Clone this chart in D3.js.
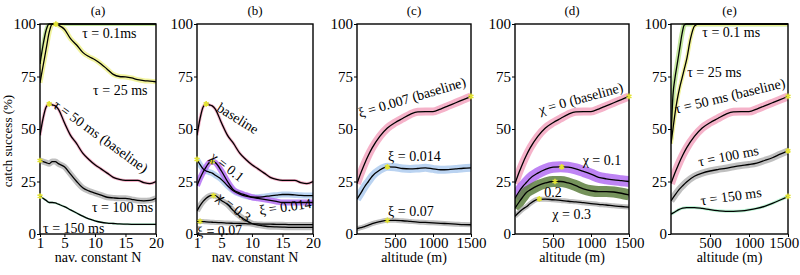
<!DOCTYPE html>
<html>
<head>
<meta charset="utf-8">
<script src="https://cdn.jsdelivr.net/npm/d3@7"></script>
<style>
  body { margin: 0; background: #fff; }
  svg text { font-family: "Liberation Serif", "Times New Roman", serif; fill: #000; }
  .tick text { font-size: 15px; }
  .tick line { stroke: #000; }
  .lbl { font-size: 14px; }
</style>
</head>
<body>
<svg id="chart" width="800" height="275" font-family="Liberation Serif, serif"></svg>
<script>
// ---- data ----
var nGrid   = [1, 1.5, 2, 2.5, 3, 3.5, 4, 5, 6, 7, 8, 9, 10, 11, 12, 13, 14, 15, 16, 17, 18, 19, 20];
var altGrid = [0, 50, 100, 150, 200, 300, 400, 500, 600, 700, 800, 900, 1000, 1100, 1200, 1300, 1400, 1500];
var steepAlt = [0, 25, 50, 80, 110, 140, 170, 200, 250, 300, 350, 400, 600, 800, 1000, 1200, 1500];
var yTicks = [0, 25, 50, 75, 100];
var nTicks = [1, 5, 10, 15, 20];
var altTicks = [500, 1000, 1500];

// (a) & (b): catch success vs N
var tau01N   = [81, 90, 97, 100, 100, 100, 100, 100, 100, 100, 100, 100, 100, 100, 100, 100, 100, 100, 100, 100, 100, 100, 100];
var tau25N   = [72, 80, 88, 96, 100, 100, 99.5, 97.5, 93, 90, 86.5, 84.5, 83, 81, 78.5, 76, 75, 74.8, 74.3, 73.5, 73, 72.8, 72.5];
var baseN    = [47, 55, 60.5, 62, 61.5, 61, 59.5, 53, 47, 43, 38.5, 35.5, 33, 31, 29, 27, 26, 25.5, 25.5, 25.5, 24.5, 24, 25];
var tau100N  = [35, 34.5, 34, 33.5, 34.5, 34.5, 33.5, 32, 28.5, 25, 22, 20.5, 19.5, 18.5, 17.5, 17.2, 17, 17, 16.5, 16, 15.8, 16, 17];
var tau150N  = [18, 17, 16, 15, 15, 14.8, 14.2, 13, 11.5, 10, 8.5, 7.2, 6.3, 5.6, 5.2, 5, 4.8, 4.7, 4.6, 4.6, 4.6, 4.6, 4.6];
var chi01N   = [23, 26.5, 29.5, 32, 34, 34.5, 34, 30, 25, 21, 19.5, 18.5, 17.5, 17, 16.5, 16, 15.5, 15, 15, 15, 15, 15, 15];
var xi014N   = [35.5, 33, 31, 30, 29.5, 29, 28, 26, 23, 20.5, 19, 18, 17.5, 17.5, 17.8, 18.2, 18.5, 18.8, 18.8, 18.6, 18.4, 18.3, 18.3];
var chi03N   = [11, 13.5, 15.5, 17, 18, 18.5, 18.3, 16, 14, 11, 8.5, 6.5, 5, 4.2, 3.8, 3.5, 3.4, 3.3, 3.2, 3.2, 3.2, 3.2, 3.2];
var xi07N    = [6, 6, 5.9, 5.8, 5.7, 5.6, 5.5, 5.4, 5.2, 5.1, 5, 4.9, 4.8, 4.8, 4.7, 4.7, 4.6, 4.6, 4.5, 4.5, 4.5, 4.5, 4.5];

// (c), (d), (e): catch success vs altitude
var baseAlt  = [24, 29, 33.5, 37.5, 41, 46.5, 50.5, 53, 55, 57, 58.2, 58.3, 58.3, 59.5, 61, 62.5, 64, 65.5];
var xi014Alt = [16.6, 19.5, 22.5, 25, 27.5, 30.5, 32, 31.8, 31.2, 31, 31.2, 31.5, 31, 30.6, 30.7, 31, 31.3, 31.5];
var xi07Alt  = [2.5, 3, 3.5, 4.2, 4.9, 5.9, 6.5, 6.5, 6.3, 6, 5.7, 5.5, 5.3, 5.1, 4.9, 4.7, 4.5, 4.4];
var chi01Alt = [17, 20, 22.5, 24.5, 26.5, 29, 30.8, 31.8, 32, 31.8, 31, 29.8, 28.5, 27, 26.3, 25.8, 25.4, 25];
var chi02Alt = [12.3, 15, 17.5, 19.8, 21, 23, 24.3, 25, 25, 24.3, 23, 21.5, 20.6, 20.2, 20.2, 20, 19.4, 18.6];
var chi03Alt = [8.4, 10.2, 11.8, 13, 14.5, 16.5, 16.6, 16.3, 16, 15.6, 15.3, 14.9, 14.5, 14.1, 13.8, 13.4, 13.1, 12.8];
var tau01Alt = [45, 66, 74, 81, 88, 95, 99.5, 100, 100, 100, 100, 100, 100, 100, 100, 100, 100];
var tau25Alt = [43, 50, 57, 64, 69.5, 74, 78.5, 83, 93, 99, 100, 100, 100, 100, 100, 100, 100];
var tau100Alt = [15.8, 18.5, 21, 23, 24.8, 27.5, 29, 30, 30.7, 31.3, 32, 32.6, 33.1, 33.8, 35, 36.3, 38, 39.6];
var tau150Alt = [9.5, 10.5, 11.6, 12.3, 12.6, 12.6, 12.2, 11.6, 11.1, 10.8, 10.8, 11, 11.5, 12.2, 13.2, 14.6, 16.2, 17.9];

// optimum markers (x, value)
var starsA = [[3.6, 100], [2.5, 62], [1, 35], [1, 18]];
var starsB = [[2.5, 62], [3.5, 34.5], [1, 35.5], [3.7, 18.3], [1.5, 6]];
var starsC = [[1500, 65.5], [400, 32], [400, 6.5]];
var starsD = [[1500, 65.5], [614, 32], [526, 25], [320, 16.7]];
var starsE = [[1500, 65.5], [1500, 39.6], [1500, 17.9]];

// ---- styling ----
var pink = "#f3a5bf", blue = "#aecbef", purple = "#b36ef2", olive = "#5d7f3e",
    grey = "#b4b4b4", lime = "#b8e38c", yellow = "#eef18c", mint = "#aef2cc";

var plotTop = 24, plotBottom = 234;

var panels = [
  { title: "(a)", left: 40, right: 156, domain: [1, 20], ticks: nTicks, xTitle: "nav. constant N",
    series: [
      { xs: nGrid, ys: tau01N, color: lime, bw: 4 },
      { xs: nGrid, ys: tau25N, color: yellow, bw: 5 },
      { xs: nGrid, ys: baseN, color: pink, bw: 3 },
      { xs: nGrid, ys: tau100N, color: grey, bw: 6 },
      { xs: nGrid, ys: tau150N, color: mint, bw: 2 }
    ],
    stars: starsA,
    labels: [
      { t: "τ = 0.1ms", x: 7.9, y: 93.3, r: 0 },
      { t: "τ = 25 ms", x: 9.7, y: 66, r: 0 },
      { t: "τ = 50 ms (baseline)", x: 3.0, y: 60.5, r: 36 },
      { t: "τ = 100 ms", x: 9.5, y: 10.5, r: 0 },
      { t: "τ = 150 ms", x: 1.5, y: 0.6, r: 0 }
    ] },
  { title: "(b)", left: 197, right: 313, domain: [1, 20], ticks: nTicks, xTitle: "nav. constant N",
    series: [
      { xs: nGrid, ys: baseN, color: pink, bw: 3 },
      { xs: nGrid, ys: xi014N, color: blue, bw: 6 },
      { xs: nGrid, ys: chi01N, color: purple, bw: 6 },
      { xs: nGrid, ys: chi03N, color: grey, bw: 6 },
      { xs: nGrid, ys: xi07N, color: grey, bw: 5 }
    ],
    stars: starsB,
    labels: [
      { t: "baseline", x: 4.1, y: 58.9, r: 32 },
      { t: "χ = 0.1", x: 3.0, y: 35.9, r: 38 },
      { t: "χ = 0.3", x: 4.1, y: 16.7, r: 38 },
      { t: "ξ = 0.014", x: 11.3, y: 9, r: -8 },
      { t: "ξ = 0.07", x: 1.0, y: -1.2, r: -3 }
    ] },
  { title: "(c)", left: 357, right: 471, domain: [0, 1500], ticks: altTicks, xTitle: "altitude (m)",
    series: [
      { xs: altGrid, ys: baseAlt, color: pink, bw: 8 },
      { xs: altGrid, ys: xi014Alt, color: blue, bw: 8 },
      { xs: altGrid, ys: xi07Alt, color: grey, bw: 5 }
    ],
    stars: starsC,
    labels: [
      { t: "ξ = 0.007 (baseline)", x: 40, y: 55.4, r: -16.5 },
      { t: "ξ = 0.014", x: 408, y: 35, r: 0 },
      { t: "ξ = 0.07", x: 408, y: 8.5, r: 0 }
    ] },
  { title: "(d)", left: 515, right: 629, domain: [0, 1500], ticks: altTicks, xTitle: "altitude (m)",
    series: [
      { xs: altGrid, ys: baseAlt, color: pink, bw: 8 },
      { xs: altGrid, ys: chi01Alt, color: purple, bw: 11 },
      { xs: altGrid, ys: chi02Alt, color: olive, bw: 11 },
      { xs: altGrid, ys: chi03Alt, color: grey, bw: 5 }
    ],
    stars: starsD,
    labels: [
      { t: "χ = 0 (baseline)", x: 332, y: 56.9, r: -15.5 },
      { t: "χ = 0.1", x: 890, y: 32.7, r: 0 },
      { t: "0.2", x: 385, y: 17.5, r: 0 },
      { t: "χ = 0.3", x: 491, y: 7.1, r: 0 }
    ] },
  { title: "(e)", left: 671, right: 788, domain: [0, 1500], ticks: altTicks, xTitle: "altitude (m)",
    series: [
      { xs: steepAlt, ys: tau01Alt, color: lime, bw: 5 },
      { xs: steepAlt, ys: tau25Alt, color: yellow, bw: 4 },
      { xs: altGrid, ys: baseAlt, color: pink, bw: 8 },
      { xs: altGrid, ys: tau100Alt, color: grey, bw: 7 },
      { xs: altGrid, ys: tau150Alt, color: mint, bw: 3 }
    ],
    stars: starsE,
    labels: [
      { t: "τ = 0.1 ms", x: 401, y: 93.8, r: 0 },
      { t: "τ = 25 ms", x: 207, y: 74.9, r: 0 },
      { t: "τ = 50 ms (baseline)", x: 65, y: 57.3, r: -13.6 },
      { t: "τ = 100 ms", x: 362, y: 32.2, r: -11 },
      { t: "τ = 150 ms", x: 388, y: 13.7, r: -8 }
    ] }
];

var svg = d3.select("#chart");

var yScale = d3.scaleLinear().domain([0, 100]).range([plotBottom, plotTop]);

// y axis title (only on the first panel)
svg.append("text")
  .attr("transform", "translate(12,141) rotate(-90)")
  .attr("text-anchor", "middle")
  .style("font-size", "13px")
  .text("catch success (%)");

panels.forEach(function(p, i) {
  var xScale = d3.scaleLinear().domain(p.domain).range([p.left, p.right]);
  var g = svg.append("g");

  // clip to the plot box
  var clipId = "clip" + i;
  svg.append("clipPath").attr("id", clipId)
    .append("rect")
    .attr("x", p.left).attr("y", plotTop - 1)
    .attr("width", p.right - p.left).attr("height", plotBottom - plotTop + 1);

  var line = d3.line()
    .x(function(d) { return xScale(d[0]); })
    .y(function(d) { return yScale(d[1]); })
    .curve(d3.curveMonotoneX);

  var plot = g.append("g").attr("clip-path", "url(#" + clipId + ")");

  // shaded bands
  p.series.forEach(function(s) {
    var pts = s.xs.map(function(x, k) { return [x, s.ys[k]]; });
    plot.append("path")
      .datum(pts)
      .attr("d", line)
      .attr("fill", "none")
      .attr("stroke", s.color)
      .attr("stroke-width", s.bw)
      .attr("stroke-opacity", 0.85)
      .attr("stroke-linejoin", "round");
  });

  // mean lines
  p.series.forEach(function(s) {
    var pts = s.xs.map(function(x, k) { return [x, s.ys[k]]; });
    plot.append("path")
      .datum(pts)
      .attr("d", line)
      .attr("fill", "none")
      .attr("stroke", "#000")
      .attr("stroke-width", 1.3);
  });

  // frame
  g.append("rect")
    .attr("x", p.left).attr("y", plotTop)
    .attr("width", p.right - p.left).attr("height", plotBottom - plotTop)
    .attr("fill", "none").attr("stroke", "#000").attr("stroke-width", 1.4);

  // star markers
  g.selectAll(".star")
    .data(p.stars)
    .enter().append("path")
    .attr("transform", function(d) { return "translate(" + xScale(d[0]) + "," + yScale(d[1]) + ")"; })
    .attr("d", d3.symbol().type(d3.symbolAsterisk).size(22))
    .attr("fill", "none")
    .attr("stroke", "#e3e334")
    .attr("stroke-width", 1.6);

  // axes
  var ya = g.append("g")
    .attr("transform", "translate(" + p.left + ",0)")
    .call(d3.axisLeft(yScale).tickValues(yTicks).tickSize(3).tickSizeOuter(0).tickPadding(1))
    .attr("font-family", null);
  ya.select(".domain").remove();

  var xa = g.append("g")
    .attr("transform", "translate(0," + plotBottom + ")")
    .call(d3.axisBottom(xScale).tickValues(p.ticks).tickFormat(d3.format("d"))
      .tickSize(3).tickSizeOuter(0).tickPadding(0))
    .attr("font-family", null);
  xa.select(".domain").remove();
  // keep the last label of the last panel inside the window
  if (i === panels.length - 1) {
    xa.selectAll(".tick text").filter(function(d) { return d === 1500; })
      .attr("text-anchor", "end").attr("dx", "0.72em");
  }

  // panel title and x title
  var cx = (p.left + p.right) / 2;
  svg.append("text")
    .attr("x", cx).attr("y", 15)
    .attr("text-anchor", "middle")
    .style("font-size", "13px")
    .text(p.title);

  svg.append("text")
    .attr("x", cx).attr("y", 262)
    .attr("text-anchor", "middle")
    .style("font-size", "14px")
    .text(p.xTitle);

  // curve labels
  p.labels.forEach(function(l) {
    svg.append("text")
      .attr("class", "lbl")
      .attr("transform", "translate(" + xScale(l.x) + "," + yScale(l.y) + ") rotate(" + l.r + ")")
      .text(l.t);
  });
});
</script>
</body>
</html>
